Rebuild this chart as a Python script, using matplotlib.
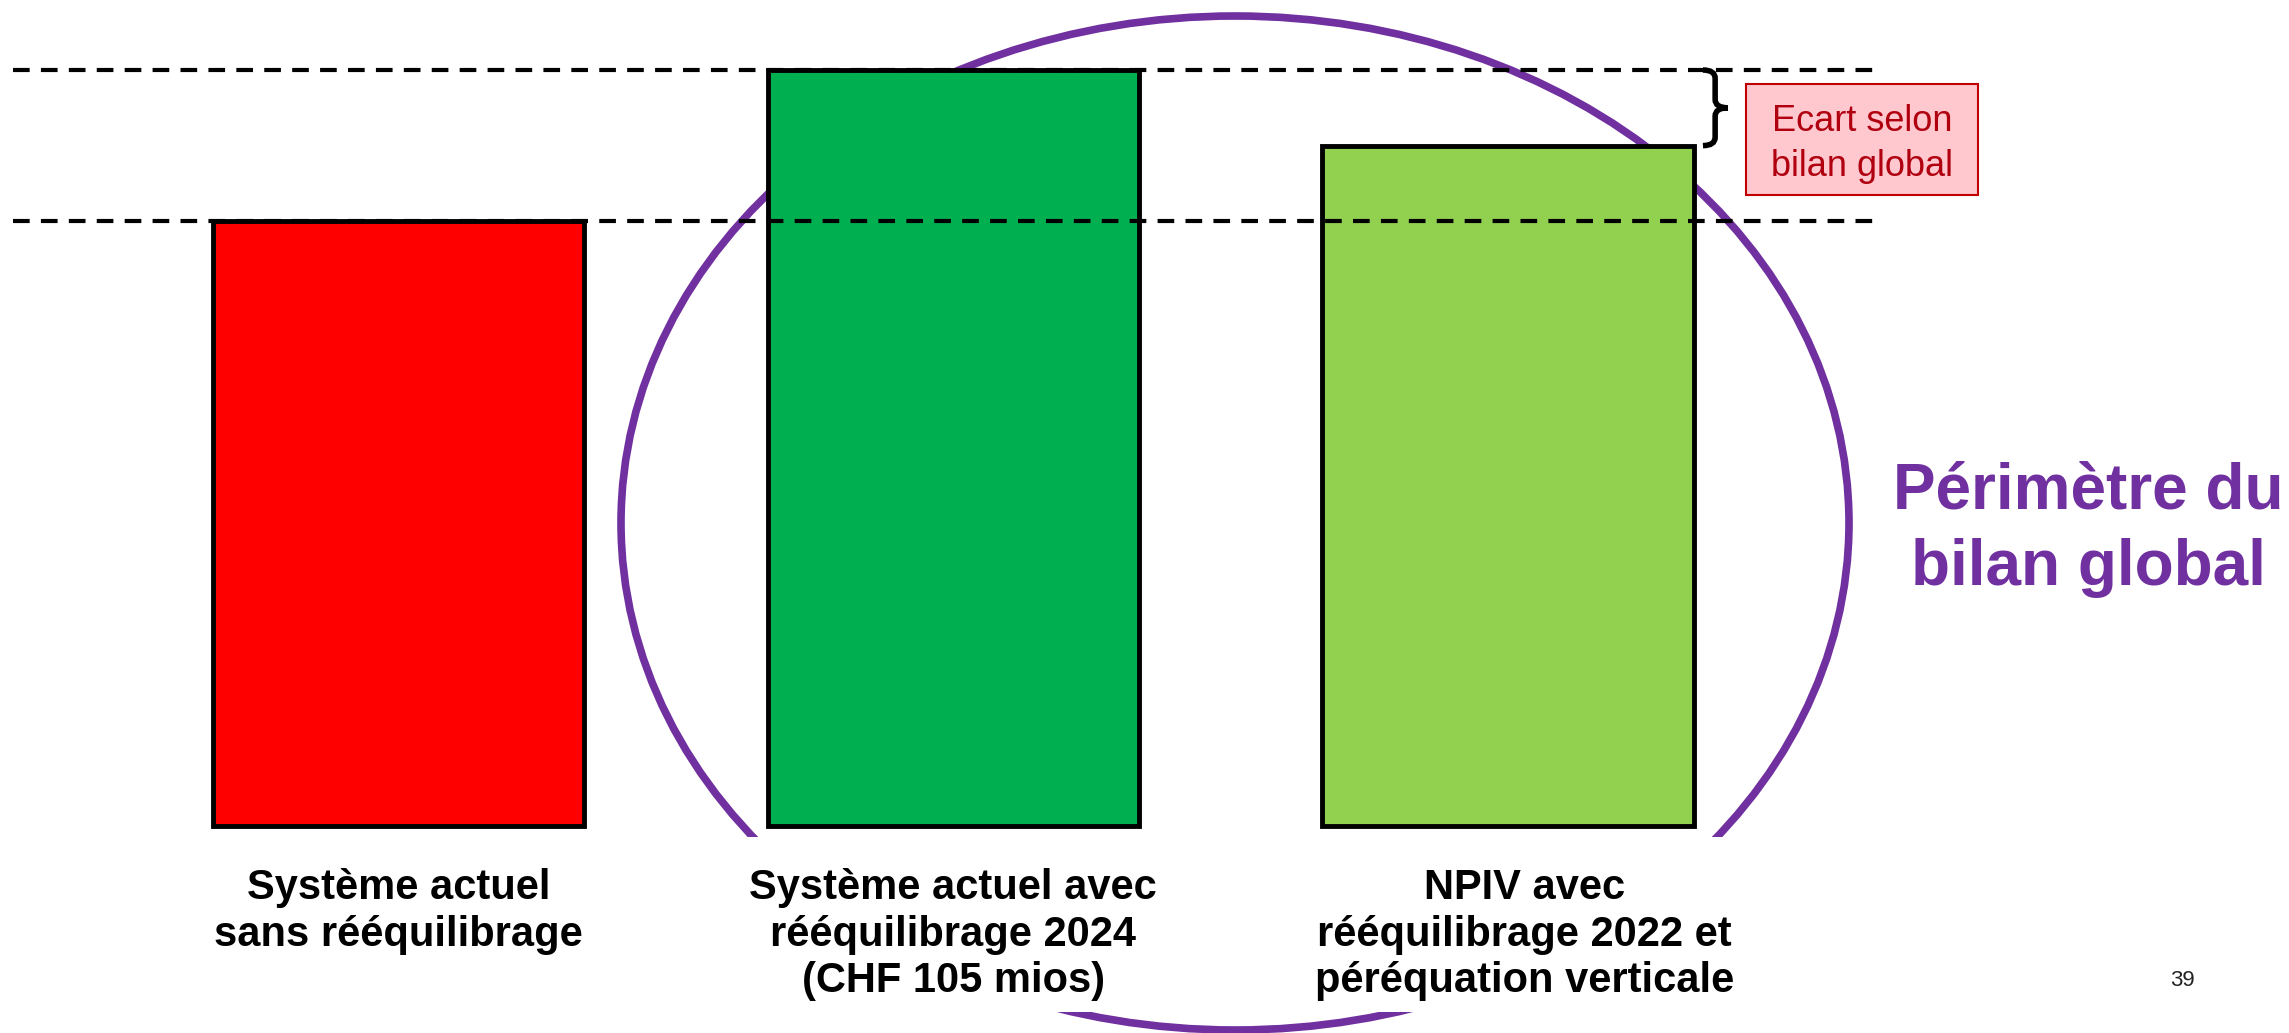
import numpy as np
import matplotlib
matplotlib.use("Agg")
import matplotlib.pyplot as plt
from matplotlib.patches import Ellipse, Rectangle, PathPatch
from matplotlib.path import Path
from matplotlib.transforms import Affine2D

plt.rcParams['font.family'] = ['Liberation Sans', 'DejaVu Sans']

# Data (relative levels)
categories = ["Système actuel\nsans rééquilibrage",
              "Système actuel avec\nrééquilibrage 2024\n(CHF 105 mios)",
              "NPIV avec\nrééquilibrage 2022 et\npéréquation verticale"]
values = [80, 100, 90]
colors = ["#FF0000", "#00B050", "#92D050"]
label_dx = [0.0, 0.0, 0.03]

W, H = 2289, 1033
fig = plt.figure(figsize=(W / 100, H / 100), dpi=100)
ax = fig.add_axes([0, 0, 1, 1])
ax.set_xlim(-0.7184, 3.408)
ax.set_ylim(-27.38, 109.26)
ax.axis('off')

# pixel transform (origin top-left) for layout decorations
px = Affine2D().scale(1 / W, -1 / H).translate(0, 1) + fig.transFigure

x = np.arange(len(values))
ax.bar(x, values, width=0.669, color=colors, edgecolor='black', linewidth=3.5, zorder=3)

# reference dashed lines at the current system and the max (drawn over the bars)
for lvl in [max(values), values[0]]:
    ax.hlines(lvl, -0.695, 2.665, colors='black', linestyles=(0, (4, 2.7)),
              linewidth=3, zorder=4)

# "Périmètre du bilan global" ellipse, behind the bars
ell = Ellipse((1235, 523), 1228, 1014, transform=px, fill=False,
              edgecolor='#7030A0', linewidth=5.5, zorder=2)
ax.add_patch(ell)
# white text area hiding the lower part of the ellipse
ax.add_patch(Rectangle((700, 837), 1080, 175, transform=px, facecolor='white',
                       edgecolor='none', zorder=5))

# category labels
for i, lab in enumerate(categories):
    ax.text(i + label_dx[i], -5.6, lab, ha='center', va='top', fontsize=30,
            fontweight='bold', linespacing=1.2, zorder=6)

# curly brace showing the gap between the two scenarios
x0 = 2 + 0.669 / 2 + 0.017
x1 = x0 + 0.022
x2 = x1 + 0.023
top, bot = max(values), values[2]
mid = (top + bot) / 2
r = 1.1
verts = [(x0, top), (x1, top), (x1, top - r),
         (x1, mid + r), (x1, mid), (x2, mid),
         (x1, mid), (x1, mid - r),
         (x1, bot + r), (x1, bot), (x0, bot)]
codes = [Path.MOVETO, Path.CURVE3, Path.CURVE3,
         Path.LINETO, Path.CURVE3, Path.CURVE3,
         Path.CURVE3, Path.CURVE3,
         Path.LINETO, Path.CURVE3, Path.CURVE3]
ax.add_patch(PathPatch(Path(verts, codes), fill=False, edgecolor='black',
                       linewidth=4, capstyle='butt', zorder=6))

# pink annotation box
ax.add_patch(Rectangle((1746, 84), 232, 111, transform=px, facecolor='#FFC7CE',
                       edgecolor='#C00000', linewidth=1.5, zorder=6))
ax.text(1862, 144, "Ecart selon\nbilan global", transform=px, ha='center',
        va='center', fontsize=26, color='#B00010', linespacing=1.37, zorder=7)

ax.text(2088, 530, "Périmètre du\nbilan global", transform=px, ha='center',
        va='center', fontsize=46, fontweight='bold', color='#7030A0',
        linespacing=1.35, zorder=7)

ax.text(2182, 981, "39", transform=px, ha='center', va='center', fontsize=16,
        color='#222222')

fig.savefig("out.png", dpi=100)
